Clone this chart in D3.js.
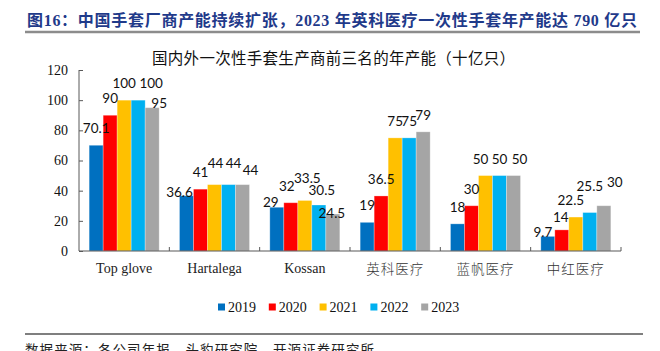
<!DOCTYPE html>
<html>
<head>
<meta charset="utf-8">
<script src="https://cdn.jsdelivr.net/npm/d3@7"></script>
<style>
  html, body { margin: 0; padding: 0; background: #fff; }
  svg { display: block; }
</style>
</head>
<body>
<svg id="chart" width="660" height="351"></svg>
<script>
// ---- data ----
const categories = ["Top glove", "Hartalega", "Kossan", "英科医疗", "蓝帆医疗", "中红医疗"];
const years = ["2019", "2020", "2021", "2022", "2023"];
const v2019 = [70.1, 36.6, 29, 19, 18, 9.7];
const v2020 = [90, 41, 32, 36.5, 30, 14];
const v2021 = [100, 44, 33.5, 75, 50, 22.5];
const v2022 = [100, 44, 30.5, 75, 50, 25.5];
const v2023 = [95, 44, 24.5, 79, 50, 30];
const yTicks = [0, 20, 40, 60, 80, 100, 120];

const titleText = "图16：中国手套厂商产能持续扩张，2023 年英科医疗一次性手套年产能达 790 亿只";
const subtitleText = "国内外一次性手套生产商前三名的年产能（十亿只）";
const sourceText = "数据来源：各公司年报，头豹研究院，开源证券研究所";

// ---- style ----
const colors = ["#0070C0", "#FF0000", "#FFC000", "#00B0F0", "#A5A5A5"];
// manual data-label nudges (dx, dy) as in the original chart
const labelNudge = {
  "Top glove|2022": [13, 0], "Top glove|2023": [7, 12],
  "Hartalega|2019": [-7, 13], "Hartalega|2021": [1, -4.5], "Hartalega|2022": [5, -4.5], "Hartalega|2023": [8, 2.5],
  "Kossan|2019": [-6, 12], "Kossan|2020": [-4, 0], "Kossan|2021": [2.5, -5], "Kossan|2022": [3, 2], "Kossan|2023": [-1, 16],
  "蓝帆医疗|2021": [-5, 0], "蓝帆医疗|2023": [6, 0],
  "中红医疗|2019": [-5, 13], "中红医疗|2020": [-1, 4], "中红医疗|2021": [-5, 0], "中红医疗|2022": [0, -10], "中红医疗|2023": [11, -6.5]
};

const seriesVals = [v2019, v2020, v2021, v2022, v2023];
const data = categories.map((c, i) => ({
  cat: c,
  vals: years.map((y, j) => ({ year: y, value: seriesVals[j][i], si: j, cat: c }))
}));

const svg = d3.select("#chart");
const serif = "'Liberation Serif', 'Times New Roman', serif";
const cjk = "'Noto Sans CJK SC', 'Noto Sans', sans-serif";
const isCJK = s => /[\u4e00-\u9fff]/.test(s);

// title
svg.append("text")
  .attr("x", 27).attr("y", 26)
  .attr("textLength", 610).attr("lengthAdjust", "spacing")
  .style("font-family", serif + ", 'Noto Sans CJK SC'")
  .style("font-weight", "bold").style("font-size", "16px")
  .attr("fill", "#1F3A8A")
  .text(titleText);
svg.append("line").attr("x1", 25).attr("x2", 640).attr("y1", 32).attr("y2", 32)
  .attr("stroke", "#8c8c8c").attr("stroke-width", 2.5);

// subtitle
svg.append("text")
  .attr("x", 152).attr("y", 63.5)
  .attr("textLength", 363).attr("lengthAdjust", "spacing")
  .style("font-family", cjk).style("font-size", "15.5px")
  .attr("fill", "#111")
  .text(subtitleText);

// scales
const x0 = d3.scaleBand().domain(categories).range([79, 621]).paddingInner(0.225).paddingOuter(0.1125);
const x1 = d3.scaleBand().domain(years).range([0, x0.bandwidth()]);
const y = d3.scaleLinear().domain([0, 120]).range([251, 70]);

// y axis
const yAxis = d3.axisLeft(y).tickValues(yTicks).tickSize(-4).tickPadding(11);
const gy = svg.append("g").attr("transform", "translate(79,0)").call(yAxis);
gy.select(".domain").attr("stroke", "#595959").attr("d", "M0,70V251");
gy.selectAll(".tick line").attr("stroke", "#595959");
gy.selectAll(".tick text").style("font-family", serif).style("font-size", "14px").attr("fill", "#111");

// bars
const groups = svg.append("g").selectAll("g").data(data).join("g")
  .attr("transform", d => `translate(${x0(d.cat)},0)`);
groups.selectAll("rect").data(d => d.vals).join("rect")
  .attr("x", d => x1(d.year))
  .attr("y", d => y(d.value))
  .attr("width", x1.bandwidth())
  .attr("height", d => y(0) - y(d.value))
  .attr("fill", d => colors[d.si])
  .attr("stroke", "rgba(255,255,255,0.35)").attr("stroke-width", 0.8);

// data labels
groups.selectAll("text").data(d => d.vals).join("text")
  .attr("x", d => x1(d.year) + x1.bandwidth() / 2 + (labelNudge[d.cat + "|" + d.year] || [0, 0])[0])
  .attr("y", d => y(d.value) - 12 + (labelNudge[d.cat + "|" + d.year] || [0, 0])[1])
  .attr("text-anchor", "middle")
  .style("font-family", "Lato, 'Liberation Sans', sans-serif").style("font-size", "13.5px")
  .attr("fill", "#111")
  .text(d => d.value);

// x axis
const boundaries = categories.map(c => x0(c) - x0.step() * x0.paddingInner() / 2).concat([621]);
const gx = svg.append("g");
gx.append("line").attr("x1", 79).attr("x2", 621).attr("y1", 251).attr("y2", 251)
  .attr("stroke", "#595959").attr("stroke-width", 1.2);
gx.selectAll("line.tk").data(boundaries.slice(1)).join("line").attr("class", "tk")
  .attr("x1", d => d).attr("x2", d => d).attr("y1", 251).attr("y2", 247)
  .attr("stroke", "#595959");
gx.selectAll("text").data(categories).join("text")
  .attr("x", d => x0(d) + x0.bandwidth() / 2)
  .attr("y", d => isCJK(d) ? 274 : 272.5)
  .attr("text-anchor", "middle")
  .style("font-family", d => isCJK(d) ? cjk : serif)
  .style("font-size", d => isCJK(d) ? "13.5px" : "14px")
  .style("font-weight", d => isCJK(d) ? "300" : "400")
  .style("letter-spacing", d => isCJK(d) ? "1px" : "0px")
  .attr("fill", d => isCJK(d) ? "#333" : "#222")
  .text(d => d);

// legend
const lg = svg.append("g").selectAll("g").data(years).join("g")
  .attr("transform", (d, i) => `translate(${218 + i * 50.8},0)`);
lg.append("rect").attr("x", 0).attr("y", 303.5).attr("width", 7).attr("height", 7)
  .attr("fill", (d, i) => colors[i]);
lg.append("text").attr("x", 10).attr("y", 312)
  .style("font-family", serif).style("font-size", "14px").attr("fill", "#111")
  .text(d => d);

// source
svg.append("line").attr("x1", 25).attr("x2", 643).attr("y1", 334).attr("y2", 334)
  .attr("stroke", "#555").attr("stroke-width", 1.5);
svg.append("text").attr("x", 25).attr("y", 355)
  .attr("textLength", 349).attr("lengthAdjust", "spacing")
  .style("font-family", cjk).style("font-size", "13.5px").attr("fill", "#222")
  .text(sourceText);
</script>
</body>
</html>
